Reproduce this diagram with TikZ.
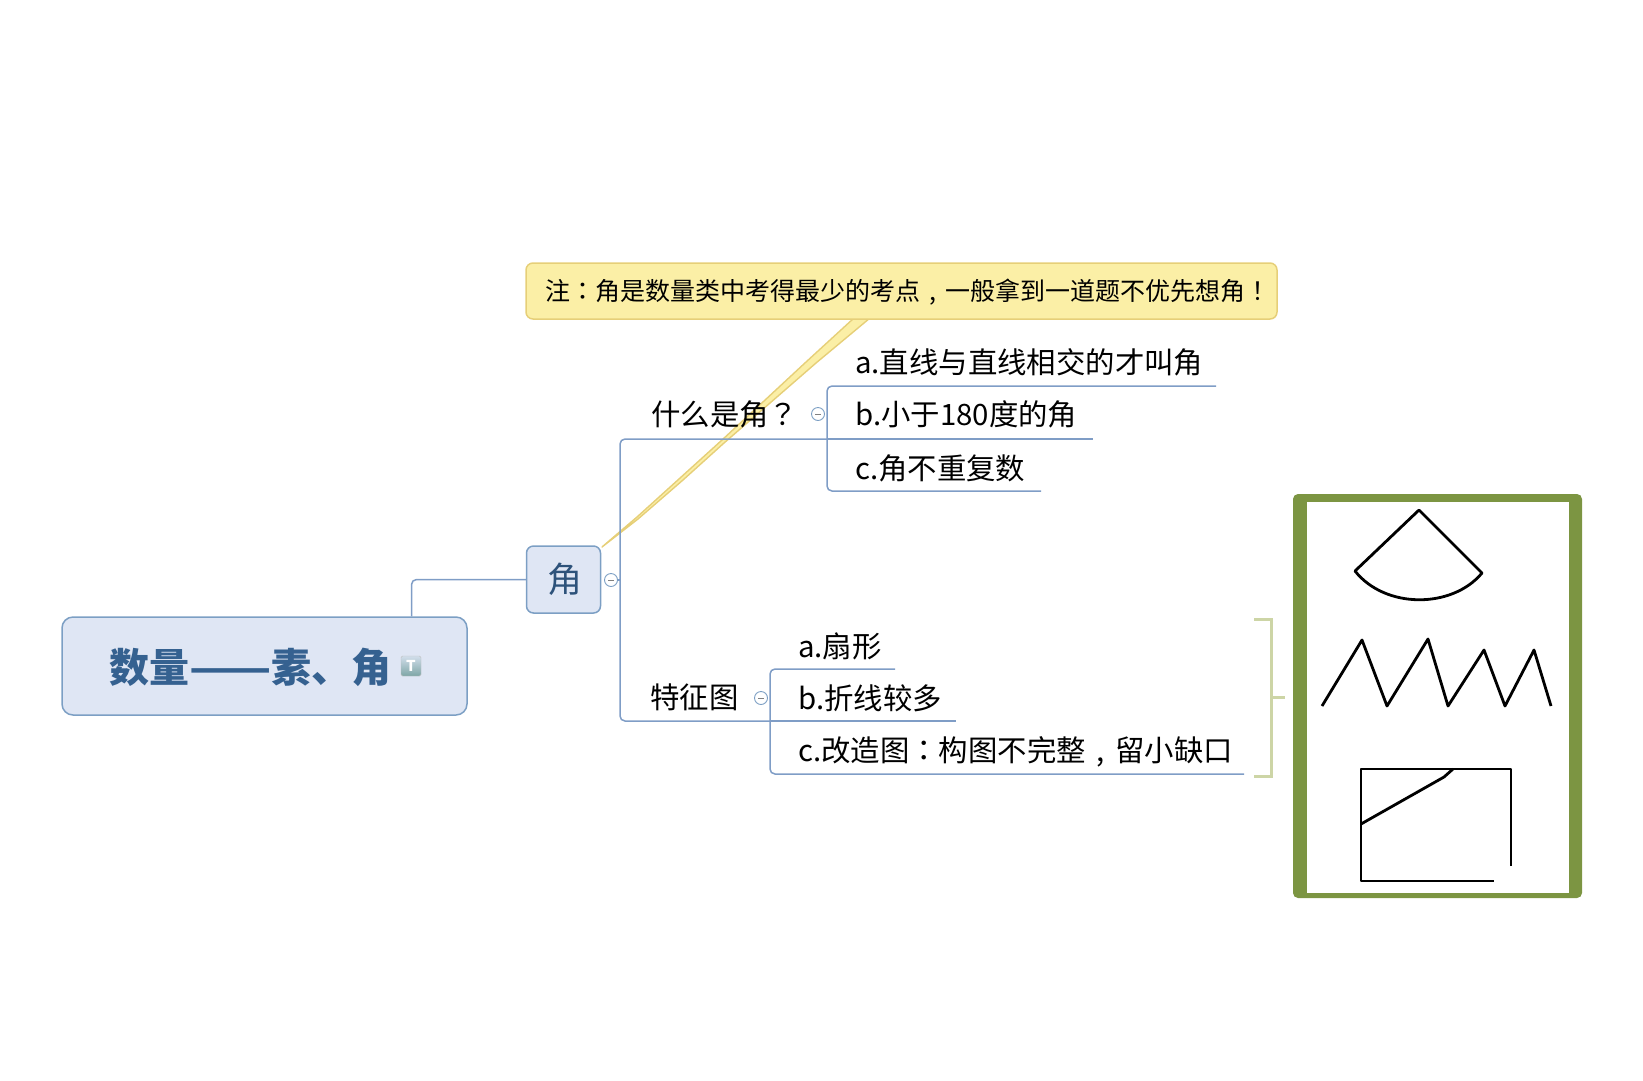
\documentclass[tikz,border=0pt]{standalone}
\usepackage{fontspec}
\setmainfont{Noto Sans CJK SC}
\newfontfamily\puncfont{Noto Sans CJK TC}
\usepackage{xcolor}
\usetikzlibrary{positioning, calc}
\definecolor{linkblue}{HTML}{7F9DC6}
\definecolor{boxfill}{HTML}{DFE6F4}
\definecolor{boxedge}{HTML}{7C9FC4}
\definecolor{titleblue}{HTML}{356190}
\definecolor{noteyellow}{HTML}{FBEFA6}
\definecolor{noteedge}{HTML}{E6CF78}
\definecolor{framegreen}{HTML}{7C9542}
\definecolor{boundgreen}{HTML}{CDD5A6}
\newcommand{\pn}[1]{{\puncfont #1}}
\newcommand{\cm}{\makebox[1em]{,}}

\begin{document}
\begin{tikzpicture}[
  x=1pt, y=-1pt,
  link/.style={draw=linkblue, line width=1.5pt, rounded corners=5pt},
  mainbox/.style={rectangle, rounded corners=11pt, fill=boxfill, draw=boxedge, line width=1.5pt,
    minimum width=405pt, minimum height=98pt},
  subbox/.style={rectangle, rounded corners=7pt, fill=boxfill, draw=boxedge, line width=1.5pt,
    minimum width=74pt, minimum height=67pt, text=titleblue!85!black, font=\fontsize{35}{38}\selectfont},
  notebox/.style={rectangle, rounded corners=7pt, fill=noteyellow, draw=noteedge, line width=1.5pt,
    minimum width=751pt, minimum height=56pt},
  topic/.style={anchor=west, inner sep=0pt, font=\fontsize{29.4}{32}\selectfont},
  fold/.style={circle, draw=boxedge, fill=white, line width=0.9pt, minimum size=13pt, inner sep=0pt,
    path picture={\draw[gray, line width=0.9pt] ([xshift=-3pt]path picture bounding box.center) -- ([xshift=3pt]path picture bounding box.center);}},
  bound/.style={draw=boundgreen, line width=3pt},
  sketch/.style={draw=black, line width=2.8pt, line join=round}
]
  \useasboundingbox (0,0) rectangle (1643,1080);

  % callout tail goes under everything else
  \filldraw[fill=noteyellow, draw=noteedge, line width=1.4pt, line join=round]
    (854,318) -- (806,362) -- (722,440) -- (637,517) -- (602,547)
    -- (638,519) -- (683,480) -- (724,443) -- (816,363) -- (870,318) -- cycle;

  \node[mainbox] (main) at (264.5,666) {};
  \node[subbox] (jiao) at (563.5,579.5) {\hspace*{3pt}角};
  \node[notebox] (note) at (901.5,291) {};
  \node[anchor=west, inner sep=0pt, font=\fontsize{25}{28}\selectfont] (notetext) at (545,292)
    {注\pn{：}角是数量类中考得最少的考点\cm 一般拿到一道题不优先想角\pn{！}};
  \node[anchor=west, inner sep=0pt, text=titleblue, font=\fontsize{40}{44}\selectfont\bfseries] (title) at (109,667)
    {数量\scalebox{1.2}[1]{——}素、角};
  \node[rectangle, rounded corners=1.5pt, minimum size=20pt, inner sep=0pt, top color=boxedge!35!white, bottom color=teal!45!gray!70!white,
    draw=gray!50, text=white, font=\fontsize{15}{15}\selectfont\bfseries] (icon) at (411,666) {T};

  \node[fold] (fold1) at (611,580) {};
  \node[fold] (fold2) at (818,414) {};
  \node[fold] (fold3) at (761,698) {};

  \node[topic] (what) at (651,414) {什么是角\pn{？}};
  \node[topic] (shape) at (650,697) {特征图};
  \node[topic] (whata) at (855,362) {a.直线与直线相交的才叫角};
  \node[topic] (whatb) at (855,414) {b.小于180度的角};
  \node[topic] (whatc) at (855,468) {c.角不重复数};
  \node[topic] (shapea) at (798,646) {a.扇形};
  \node[topic] (shapeb) at (798,698) {b.折线较多};
  \node[topic] (shapec) at (798,752) {c.改造图\pn{：}构图不完整\cm 留小缺口};

  \coordinate (trunk) at (620,580);
  \coordinate (whathub) at (827,439);
  \coordinate (shapehub) at (770,721);
  \coordinate (whataend) at (1216,386);
  \coordinate (whatbend) at (1093,439);
  \coordinate (whatcend) at (1041,491);
  \coordinate (shapeaend) at (895,669);
  \coordinate (shapebend) at (956,721);
  \coordinate (shapecend) at (1244,774);

  \draw[link] ([xshift=147pt]main.north) |- (jiao.west);
  \draw[link] (fold1) -- (trunk);
  \draw[link] (whathub) -| (trunk) |- (shapehub);
  \draw[link] (whataend) -| (whathub) |- (whatcend);
  \draw[link] (whathub) -- (whatbend);
  \draw[link] (shapeaend) -| (shapehub) |- (shapecend);
  \draw[link] (shapehub) -- (shapebend);

  % picture frame with its three sketches
  \node[rectangle, rounded corners=5pt, fill=framegreen, minimum width=289pt, minimum height=404pt] (frame) at (1437.5,696) {};
  \node[rectangle, fill=white, minimum width=262pt, minimum height=391pt] (inner) at (1438,697.5) {};

  \coordinate (boundtop) at (1254,619);
  \coordinate (boundbot) at (1254,776);
  \coordinate (boundx) at (1271,697);
  \coordinate (boundtip) at (1285,697);
  \draw[bound] (boundtop) -| (boundx) |- (boundbot);
  \draw[bound] (boundx) -- (boundtip);

  \draw[sketch] (1419,510) -- (1355,571) .. controls (1385,609) and (1452,609) .. (1482,573) -- cycle;
  \draw[sketch] (1322,706) -- (1362,640) -- (1387,706) -- (1428,639) -- (1448,706) -- (1484,650) -- (1505,706) -- (1534,650) -- (1551,706);
  \draw[sketch] (1511,866) -- (1511,769) -- (1361,769) -- (1361,881) -- (1494,881);
  \draw[sketch] (1361,824) -- (1444,777) -- (1453,769);
\end{tikzpicture}
\end{document}
